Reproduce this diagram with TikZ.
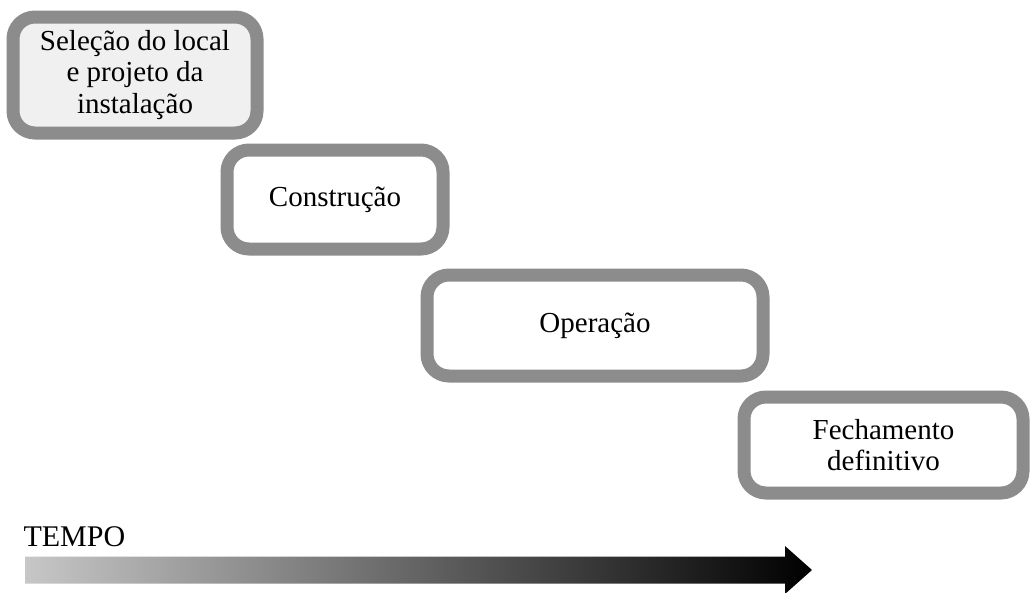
\documentclass[tikz,border=0pt]{standalone}
\usepackage{fontspec}
\setmainfont{Liberation Serif}
\usetikzlibrary{positioning}

\begin{document}
\begin{tikzpicture}[x=1pt,y=-1pt]
		\tikzset{
			etapa/.style={draw={black!45},line width=13pt,rounded corners=22pt,
				fill=white,align=center,inner sep=0pt,
				font=\fontsize{29}{31.5}\selectfont},
			tempo/.style={font=\fontsize{30}{32}\selectfont,anchor=west}
		}
		\useasboundingbox (0,0) rectangle (1032,592);
		% fases
		\node[etapa,fill={black!6},minimum width=244pt,minimum height=116pt] (selecao) at (135,75) {Seleção do local\\e projeto da\\instalação};
		\node[etapa,minimum width=216pt,minimum height=99pt] (construcao) at (335,199.5) {Construção};
		\node[etapa,minimum width=336pt,minimum height=101pt] (operacao) at (595,325.5) {Operação};
		\node[etapa,minimum width=279pt,minimum height=96pt] (fechamento) at (883.5,445) {Fechamento\\definitivo};
		% seta do tempo
		\node[tempo] (tempo) at (20,537) {TEMPO};
		\coordinate (inicio) at (25,570);
		\coordinate (fim) at (812,570);
		\shade[left color={black!22},right color=black]
			([yshift=-13.5pt]inicio) -- ([xshift=-27pt,yshift=-13.5pt]fim) -- ([xshift=-27pt,yshift=-24pt]fim)
			-- (fim) -- ([xshift=-27pt,yshift=24pt]fim) -- ([xshift=-27pt,yshift=13.5pt]fim)
			-- ([yshift=13.5pt]inicio) -- cycle;
	\end{tikzpicture}
\end{document}
